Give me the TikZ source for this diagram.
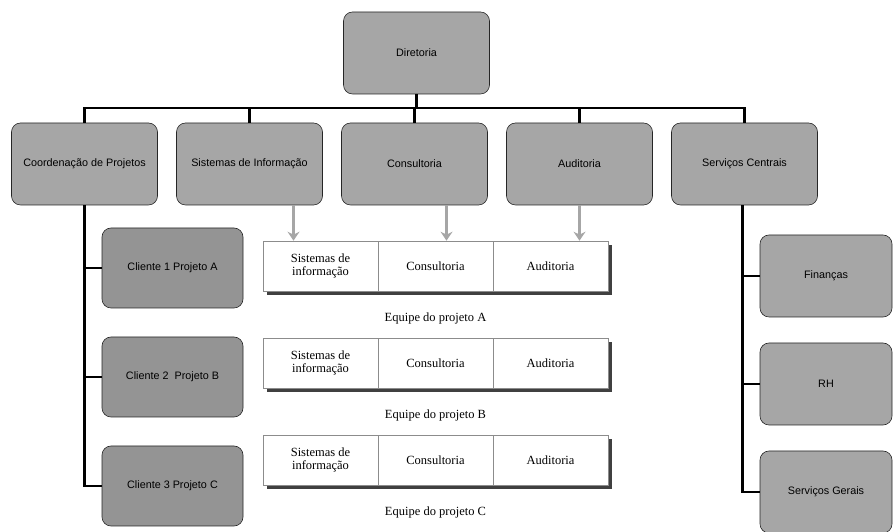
\documentclass[tikz,border=0pt]{standalone}
\usepackage{fontspec}
\setmainfont{Liberation Serif}
\setsansfont{Liberation Sans}
\usetikzlibrary{arrows.meta, shadows}

\begin{document}
\begin{tikzpicture}[
            x = 1pt, y = 1pt,
            > = {Stealth[width=12pt, length=9pt]}, % arrow head style
            node distance = 165pt, % distance between boxes
            semithick % line style
        ]

        \tikzstyle{unit}=[
            rectangle,
            rounded corners = 9pt,
            draw = black!85,
            fill = black!35,
            minimum width = 146pt,
            minimum height = 82pt,
            font = \sffamily\fontsize{10.8}{12}\selectfont
        ]
        \tikzstyle{client}=[unit, fill = black!42, minimum width = 141pt, minimum height = 80pt]
        \tikzstyle{service}=[unit, minimum width = 132pt]
        \tikzstyle{cell}=[
            rectangle,
            draw = black!45,
            fill = white,
            minimum width = 115pt,
            minimum height = 50pt,
            align = center,
            font = \fontsize{12.5}{13.5}\selectfont,
            drop shadow = {shadow xshift = 4pt, shadow yshift = -4pt, opacity = 1, fill = black!75}
        ]
        \tikzstyle{team}=[font = \fontsize{12.5}{14}\selectfont]
        \tikzstyle{link}=[draw = black, line width = 2.3pt]
        \tikzstyle{feed}=[->, draw = black!35, fill = black!35, line width = 2.5pt]

        \useasboundingbox (0,0) rectangle (896,532);

	% top and first level
	\node[unit] (dir) at (416.5,479) {Diretoria};
	\node[unit] (coord) at (84.5,368) {Coordenação de Projetos};
	\node[unit] (sis) [right of=coord] {Sistemas de Informação};
	\node[unit] (cons) [right of=sis] {Consultoria};
	\node[unit] (aud) [right of=cons] {Auditoria};
	\node[unit] (serv) [right of=aud] {Serviços Centrais};

	% clients
	\node[client] (c1) at (172.5,264) {Cliente 1 Projeto A};
	\node[client] (c2) [node distance = 109pt, below of=c1] {Cliente 2\ \ Projeto B};
	\node[client] (c3) [node distance = 109pt, below of=c2] {Cliente 3 Projeto C};

	% central services
	\node[service] (fin) at (826,256) {Finanças};
	\node[service] (rh) [node distance = 108pt, below of=fin] {RH};
	\node[service] (sg) [node distance = 108pt, below of=rh] {Serviços Gerais};

	% project teams
	\node[cell] (ta1) at (320.5,266) {Sistemas de\\informação};
	\node[cell] (ta2) [node distance = 115pt, right of=ta1] {Consultoria};
	\node[cell] (ta3) [node distance = 115pt, right of=ta2] {Auditoria};
	\node[team] (la) [node distance = 52pt, below of=ta2] {Equipe do projeto A};

	\node[cell] (tb1) [node distance = 97pt, below of=ta1] {Sistemas de\\informação};
	\node[cell] (tb2) [node distance = 115pt, right of=tb1] {Consultoria};
	\node[cell] (tb3) [node distance = 115pt, right of=tb2] {Auditoria};
	\node[team] (lb) [node distance = 52pt, below of=tb2] {Equipe do projeto B};

	\node[cell] (tc1) [node distance = 97pt, below of=tb1] {Sistemas de\\informação};
	\node[cell] (tc2) [node distance = 115pt, right of=tc1] {Consultoria};
	\node[cell] (tc3) [node distance = 115pt, right of=tc2] {Auditoria};
	\node[team] (lc) [node distance = 52pt, below of=tc2] {Equipe do projeto C};

	% hierarchy lines
	\coordinate (bus) at ([yshift=-14pt]dir.south);
	\draw[link] (dir) -- (bus);
	\draw[link] (coord.north) |- (bus) -| (serv.north);
	\path[link] (sis |- bus) edge (sis);
	\path[link] (cons |- bus) edge (cons);
	\path[link] (aud |- bus) edge (aud);

	\draw[link] (coord.south) |- (c1.west);
	\draw[link] (coord.south) |- (c2.west);
	\draw[link] (coord.south) |- (c3.west);

	\draw[link] ([xshift=-2pt]serv.south) |- (fin.west);
	\draw[link] ([xshift=-2pt]serv.south) |- (rh.west);
	\draw[link] ([xshift=-2pt]serv.south) |- (sg.west);

	% people sent to the teams
	\coordinate (sisout) at ([xshift=44pt]sis.south);
	\coordinate (consout) at ([xshift=32pt]cons.south);
	\coordinate (audout) at (aud.south);
	\draw[feed] (sisout) -- (sisout |- ta1.north);
	\draw[feed] (consout) -- (consout |- ta2.north);
	\draw[feed] (audout) -- (audout |- ta3.north);

\end{tikzpicture}
\end{document}
